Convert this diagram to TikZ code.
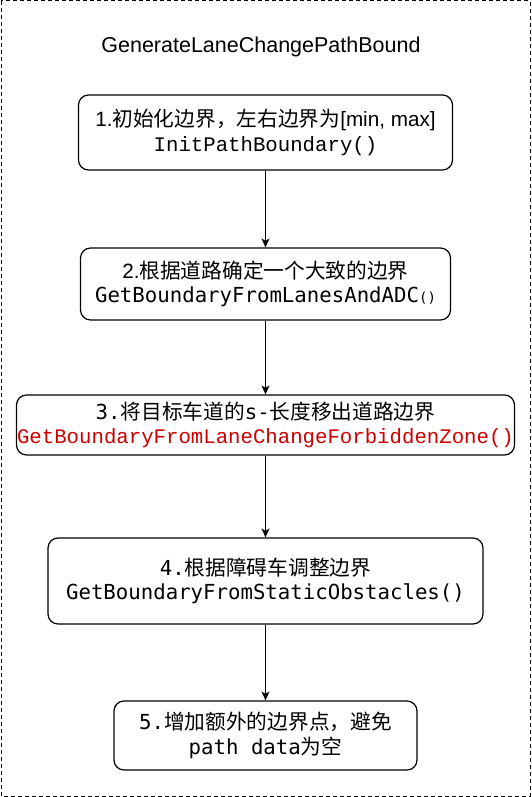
\documentclass[tikz,border=0pt]{standalone}
\usepackage{fontspec}
\setmainfont{Liberation Sans}
\newfontfamily\cjk{Noto Sans CJK SC}
\newfontfamily\cour{Liberation Mono}
\newfontfamily\menlo{DejaVu Sans Mono}
\usetikzlibrary{arrows.meta}
\definecolor{codered}{RGB}{204,0,0}
\begin{document}
\begin{tikzpicture}[x=1pt,y=-1pt,
  stepbox/.style={draw=black,line width=1.2pt,rounded corners=10pt,align=center,
    inner sep=0pt,font=\fontsize{20.7}{24.5}\selectfont},
  flow/.style={draw=black,line width=1pt,-{Stealth[length=9pt,width=8pt,inset=2.5pt]}}]
\useasboundingbox (0,0) rectangle (531,797);
\draw[line width=1pt,dash pattern=on 4pt off 3pt] (1,1) rectangle (530,796);
\node (title) at (261,47) {\fontsize{21.5}{24}\selectfont GenerateLaneChangePathBound};
\node[stepbox,minimum width=374pt,minimum height=75pt] (b1) at (265.5,132.5)
  {1.{\cjk 初始化边界，左右边界为}[min, max]\\{\cour InitPathBoundary()}};
\node[stepbox,minimum width=370pt,minimum height=72pt] (b2) at (265.5,284)
  {2.{\cjk 根据道路确定一个大致的边界}\\{\menlo GetBoundaryFromLanesAndADC{\fontsize{14}{16}\selectfont()}}};
\node[stepbox,minimum width=498pt,minimum height=60pt] (b3) at (265.5,425)
  {{\menlo 3.}{\cjk 将目标车道的}{\menlo s-}{\cjk 长度移出道路边界}\\{\cour\color{codered}GetBoundaryFromLaneChangeForbiddenZone()}};
\node[stepbox,minimum width=435pt,minimum height=86pt] (b4) at (265.5,581)
  {{\menlo 4.}{\cjk 根据障碍车调整边界}\\{\menlo GetBoundaryFromStaticObstacles()}};
\node[stepbox,minimum width=303pt,minimum height=69pt] (b5) at (265.5,735.5)
  {{\menlo 5.}{\cjk 增加额外的边界点，避免}\\{\menlo path data}{\cjk 为空}};
\draw[flow] (b1) -- (b2);
\draw[flow] (b2) -- (b3);
\draw[flow] (b3) -- (b4);
\draw[flow] (b4) -- (b5);
\end{tikzpicture}
\end{document}
